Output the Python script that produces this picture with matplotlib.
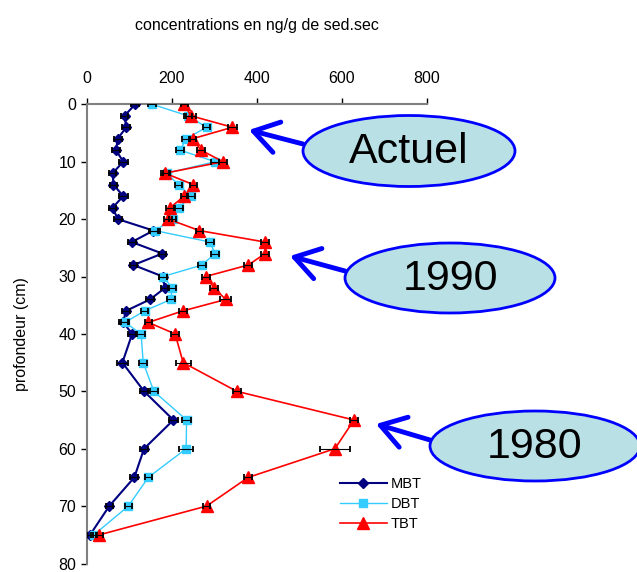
import matplotlib
matplotlib.use("Agg")
import matplotlib.pyplot as plt
from matplotlib.patches import Ellipse, FancyArrowPatch
import numpy as np

plt.rcParams['font.family'] = ['Liberation Sans', 'DejaVu Sans']

depth = [0, 2, 4, 6, 8, 10, 12, 14, 16, 18, 20, 22, 24, 26, 28, 30, 32, 34, 36, 38, 40, 45, 50, 55, 60, 65, 70, 75]
mbt = [114, 89, 93, 73, 69, 86, 61, 63, 86, 61, 73, 157, 106, 178, 110, 179, 184, 149, 92, 86, 107, 84, 135, 204, 135, 112, 53, 8]
dbt = [154, 238, 282, 234, 220, 302, 188, 216, 245, 217, 202, 161, 290, 302, 271, 180, 201, 198, 136, 90, 128, 133, 158, 235, 234, 145, 98, 17]
tbt = [230, 245, 343, 249, 269, 321, 184, 251, 230, 196, 192, 265, 420, 420, 380, 280, 300, 327, 226, 145, 208, 227, 353, 629, 584, 380, 282, 30]
mbt_err = [10, 9, 9, 9, 9, 10, 9, 9, 10, 9, 9, 10, 9, 9, 9, 10, 10, 9, 9, 10, 9, 12, 9, 10, 9, 9, 8, 8]
dbt_err = [9, 9, 9, 9, 9, 10, 9, 9, 9, 9, 9, 12, 9, 9, 9, 10, 9, 9, 9, 9, 9, 10, 9, 10, 16, 9, 8, 8]
tbt_err = [9, 12, 10, 9, 9, 10, 9, 9, 9, 9, 9, 9, 9, 9, 9, 9, 9, 13, 9, 9, 9, 18, 9, 10, 36, 10, 9, 9]

labels = ['MBT', 'DBT', 'TBT']
callouts = ['Actuel', '1990', '1980']

W, H = 637, 572
fig = plt.figure(figsize=(W/100, H/100), dpi=100)
top_px, bot_px = 104.3, 563.5
ax = fig.add_axes([86.7/W, 1-bot_px/H, 340/W, (bot_px-top_px)/H])

ax.plot(mbt, depth, color='#000080', lw=1.5, marker='D', ms=5.5, label=labels[0], zorder=3)
ax.plot(dbt, depth, color='#33CCFF', lw=1.0, marker='s', ms=5.5, label=labels[1], zorder=3)
ax.plot(tbt, depth, color='#FF0000', lw=1.2, marker='^', ms=9, label=labels[2], zorder=3)
for vals, errs in [(mbt, mbt_err), (dbt, dbt_err), (tbt, tbt_err)]:
    ax.errorbar(vals, depth, xerr=errs, fmt='none', ecolor='black', elinewidth=0.8,
                capsize=2.5, capthick=1.3, zorder=4)

ax.set_xlim(0, 800)
ax.set_ylim(80, 0)
ax.set_xticks([0, 200, 400, 600, 800])
ax.set_yticks(range(0, 81, 10))
ax.xaxis.tick_top()
ax.xaxis.set_label_position('top')
for s in ['bottom', 'right']:
    ax.spines[s].set_visible(False)
for s in ['top', 'left']:
    ax.spines[s].set_color('#808080')
    ax.spines[s].set_linewidth(1.5)
ax.tick_params(axis='both', direction='out', length=4, width=1, color='black', labelsize=11.5)
ax.tick_params(axis='x', pad=9)
ax.set_xlabel('concentrations en ng/g de sed.sec', fontsize=11.5, labelpad=30)
ax.set_ylabel('profondeur (cm)', fontsize=11.5, labelpad=21)

leg = ax.legend(loc='upper left', bbox_to_anchor=(340/W, 1-477/H), bbox_transform=fig.transFigure,
                frameon=False, fontsize=10.5, handlelength=3.2, handletextpad=0.3, labelspacing=0.4,
                borderpad=0, borderaxespad=0)

ov = fig.add_axes([0, 0, 1, 1])
ov.set_xlim(0, W)
ov.set_ylim(H, 0)
ov.axis('off')
ov.patch.set_alpha(0)

ells = [((409, 151), 212, 71, (303, 144), (249, 130)),
        ((450, 278), 210, 70, (345, 271), (290, 256)),
        ((535, 446), 210, 70, (430, 440), (376, 424))]
for (c, w, h, start, tip), txt in zip(ells, callouts):
    arr = FancyArrowPatch(start, tip, arrowstyle='->,head_length=0.7,head_width=0.45',
                          mutation_scale=25, color='#0000FF', lw=3.5, shrinkA=0, shrinkB=0)
    ov.add_patch(arr)
    e = Ellipse(c, w, h, facecolor='#B9E0E5', edgecolor='#0000FF', lw=2, clip_on=False)
    ov.add_patch(e)
    ov.text(c[0], c[1]+1, txt, fontsize=31, ha='center', va='center', color='black')

fig.savefig('out.png', dpi=100)
